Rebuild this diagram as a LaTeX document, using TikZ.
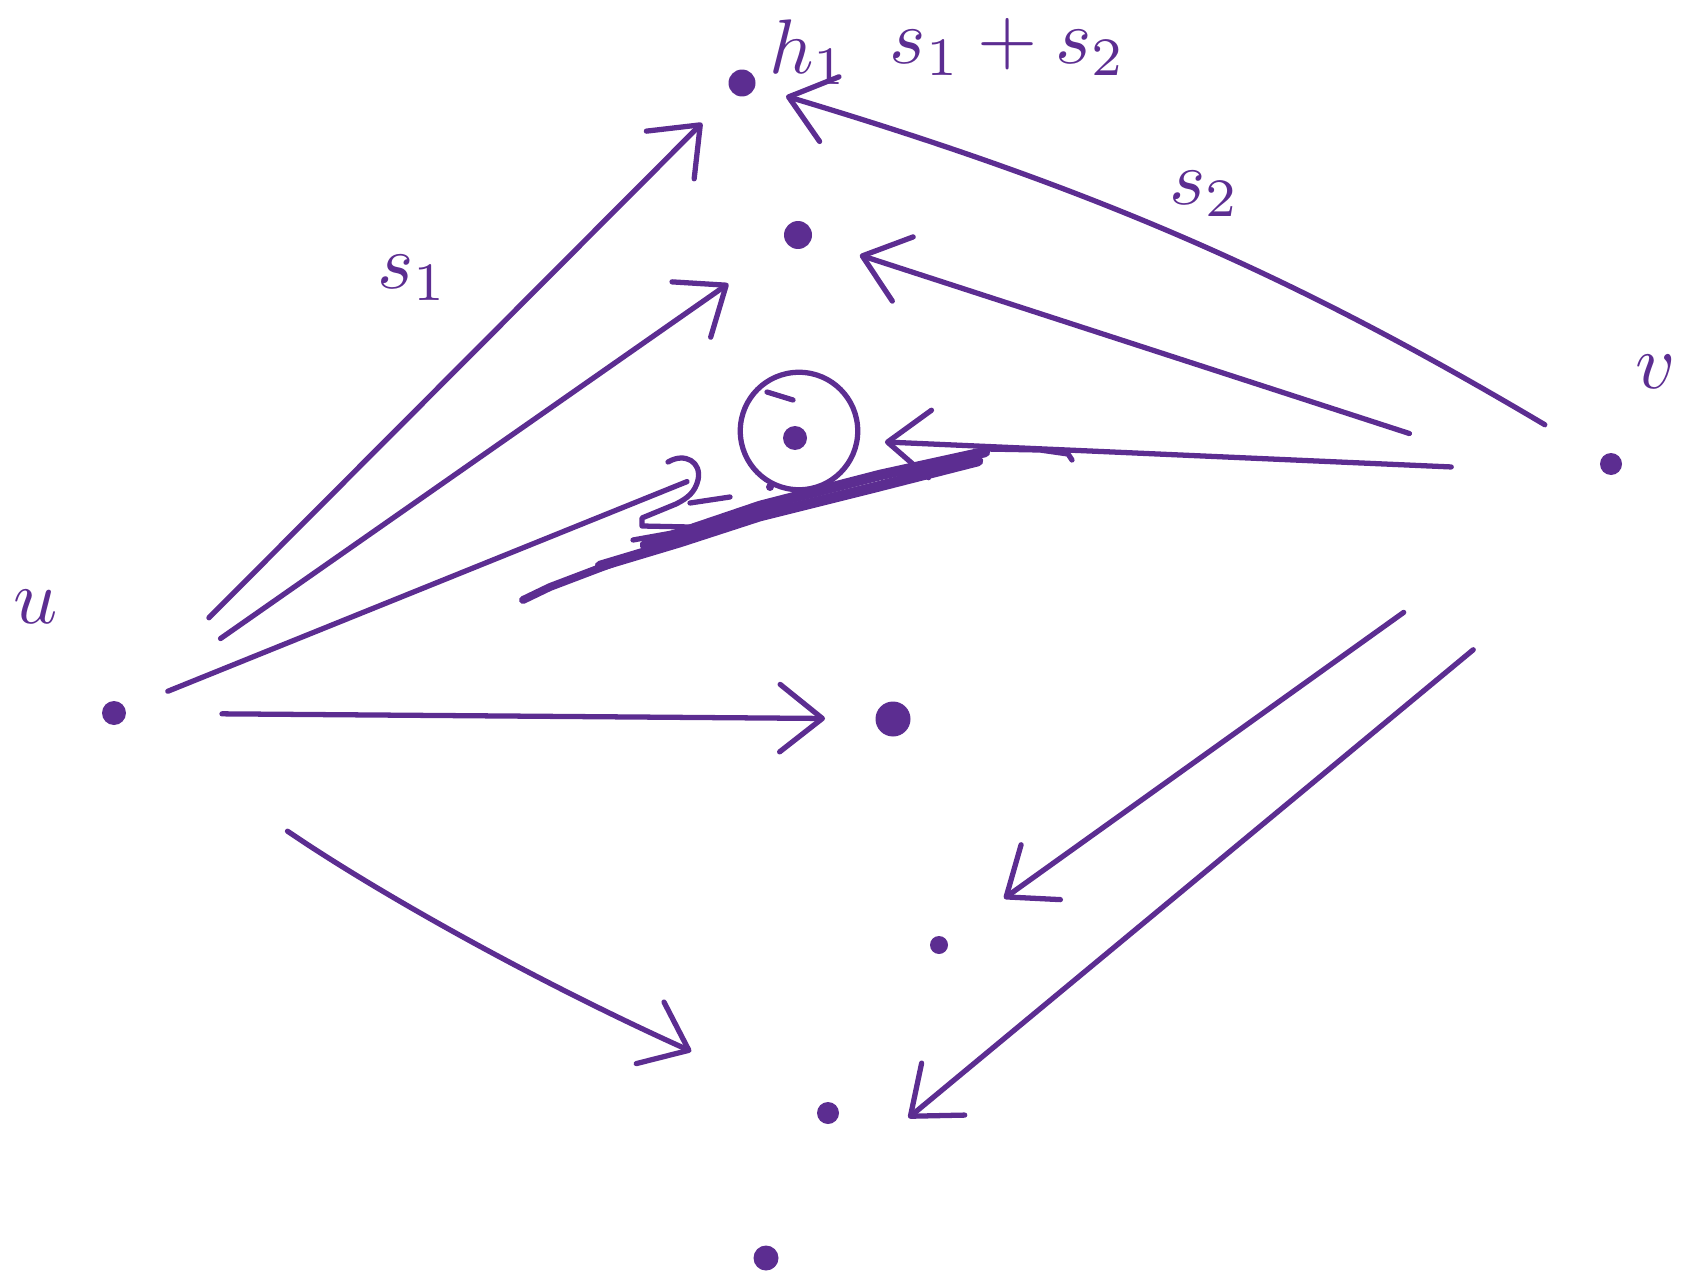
\documentclass[tikz,border=0pt]{standalone}
\usepackage{tikz}
\usetikzlibrary{arrows.meta}
\definecolor{ink}{RGB}{92,45,145}

\begin{document}
\begin{tikzpicture}[x=0.02cm, y=-0.02cm, line cap=round, line join=round,
    pen/.style={draw=ink, line width=3pt},
    arr/.style={pen, -{Straight Barb[length=0.85cm, width=1.35cm, line width=3pt, round]}},
    dot/.style={circle, fill=ink, inner sep=0pt, minimum size=#1},
    dot/.default=0.48cm,
    lbl/.style={text=ink, scale=4.4}
]
    \useasboundingbox (0,0) rectangle (1691,1274);

    \node[dot] (u) at (114,713) {};
    \node[dot=0.44cm] (v) at (1611,464) {};
    \node[dot=0.54cm] (h1) at (742,83) {};
    \node[dot=0.56cm] (d2) at (798,235) {};
    \node[dot=0.48cm] (x) at (795,438) {};
    \node[draw=ink, line width=3pt, circle, minimum size=2.35cm] (xc) at (799,431) {};
    \node[dot=0.16cm] (xs) at (770,487) {};
    \node[dot=0.7cm] (d4) at (893,719) {};
    \node[dot=0.36cm] (d5) at (939,945) {};
    \node[dot=0.44cm] (d6) at (828,1113) {};
    \node[dot=0.5cm] (d7) at (766,1258) {};

    \node[lbl] (ulbl) at (36,607) {$u$};
    \node[lbl] (vlbl) at (1656,372) {$v$};
    \node[lbl] (hlbl) at (809,52) {$h_1$};
    \node[lbl] (sum) at (1008,47) {$s_1+s_2$};
    \node[lbl] (s1) at (413,278) {$s_1$};
    \node[lbl] (s2) at (1205,194) {$s_2$};

    \draw[arr, shorten <=2.69cm, shorten >=1.13cm] (u.center) -- (h1.center);
    \draw[arr, shorten <=2.6cm, shorten >=1.7cm] (u.center) -- (d2.center);
    \draw[pen, shorten <=1.16cm, shorten >=2.33cm] (u.center) -- (x.center);
    \draw[arr, shorten <=2.16cm, shorten >=1.36cm] (u.center) -- (d4.center);
    \draw[arr, shorten <=4.2cm, shorten >=3.0cm] (u.center) to[bend right=5] (d6.center);

    \draw[arr, shorten <=1.54cm, shorten >=0.92cm] (v.center) to[bend right=7] (h1.center);
    \draw[arr, shorten <=4.24cm, shorten >=1.3cm] ([yshift=-0.7cm]v.center) -- (d2.center);
    \draw[arr, shorten <=3.2cm, shorten >=1.8cm] ([yshift=-0.2cm]v.center) -- (x.center);
    \draw[arr, shorten <=5.1cm, shorten >=1.6cm] (v.center) -- (d5.center);
    \draw[arr, shorten <=4.1cm, shorten >=1.57cm] ([shift={(0.4cm,-1.1cm)}]v.center) -- ([shift={(0.4cm,-1.1cm)}]d6.center);

    \draw[pen] (767,392) -- (793,400);
    \draw[pen] (668,462) .. controls (685,452) and (702,462) .. (698,480)
        .. controls (695,492) and (688,498) .. (676,504) -- (642,518) -- (642,526)
        -- (690,527) -- (735,518);
    \draw[pen] (730,497) -- (690,503);
    \draw[pen] (633,540) -- (700,528) -- (760,512);
    \draw[pen, line width=4.5pt] (523,600) -- (550,587) -- (600,568) -- (640,553);
    \draw[pen, line width=6pt] (600,566) -- (680,542) -- (760,516) -- (880,486) -- (978,461);
    \draw[pen, line width=6pt] (645,545) -- (760,506) -- (880,475) -- (985,452);
    \draw[pen] (985,449) -- (1040,450) -- (1068,454) -- (1072,460);
\end{tikzpicture}
\end{document}
